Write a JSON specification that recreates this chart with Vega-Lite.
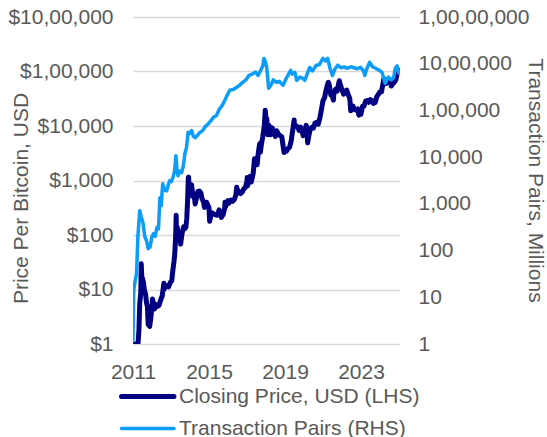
{
  "$schema": "https://vega.github.io/schema/vega-lite/v6.json",
  "width": 267,
  "height": 327,
  "autosize": {"type": "none"},
  "padding": {"left": 133, "top": 17, "right": 147, "bottom": 93},
  "background": "white",
  "config": {
    "font": "Liberation Sans",
    "view": {"stroke": null},
    "axis": {
      "labelFont": "Liberation Sans",
      "labelFontSize": 21,
      "labelColor": "#595959",
      "titleFont": "Liberation Sans",
      "titleFontSize": 21,
      "titleFontWeight": "normal",
      "titleColor": "#595959",
      "ticks": false,
      "domain": false,
      "gridColor": "#D9D9D9",
      "gridWidth": 1.5
    }
  },
  "datasets": {
    "price": [
      {"date": "2011-01-15", "price": 0.4},
      {"date": "2011-02-10", "price": 1.0},
      {"date": "2011-03-15", "price": 0.85},
      {"date": "2011-04-01", "price": 0.8},
      {"date": "2011-04-25", "price": 1.8},
      {"date": "2011-05-10", "price": 5.5},
      {"date": "2011-05-31", "price": 8.8},
      {"date": "2011-06-08", "price": 29.6},
      {"date": "2011-06-20", "price": 16},
      {"date": "2011-07-01", "price": 16.1},
      {"date": "2011-07-20", "price": 13.7},
      {"date": "2011-08-10", "price": 9.5},
      {"date": "2011-08-31", "price": 8.2},
      {"date": "2011-09-20", "price": 5.5},
      {"date": "2011-10-05", "price": 4.9},
      {"date": "2011-10-20", "price": 2.3},
      {"date": "2011-11-18", "price": 2.1},
      {"date": "2011-12-05", "price": 2.8},
      {"date": "2011-12-31", "price": 4.7},
      {"date": "2012-01-10", "price": 6.7},
      {"date": "2012-01-31", "price": 5.5},
      {"date": "2012-02-20", "price": 4.4},
      {"date": "2012-03-15", "price": 5.3},
      {"date": "2012-04-15", "price": 4.9},
      {"date": "2012-05-15", "price": 5.1},
      {"date": "2012-06-15", "price": 6.4},
      {"date": "2012-07-15", "price": 7.6},
      {"date": "2012-08-17", "price": 13},
      {"date": "2012-08-20", "price": 10},
      {"date": "2012-09-15", "price": 11.8},
      {"date": "2012-10-15", "price": 11.7},
      {"date": "2012-11-15", "price": 11.2},
      {"date": "2012-12-15", "price": 13.4},
      {"date": "2013-01-15", "price": 14.4},
      {"date": "2013-01-31", "price": 20.4},
      {"date": "2013-02-28", "price": 33.4},
      {"date": "2013-03-15", "price": 47},
      {"date": "2013-03-31", "price": 93},
      {"date": "2013-04-10", "price": 230},
      {"date": "2013-04-16", "price": 80},
      {"date": "2013-04-30", "price": 139},
      {"date": "2013-05-15", "price": 114},
      {"date": "2013-06-15", "price": 100},
      {"date": "2013-07-05", "price": 68},
      {"date": "2013-07-31", "price": 106},
      {"date": "2013-08-31", "price": 141},
      {"date": "2013-09-30", "price": 133},
      {"date": "2013-10-15", "price": 140},
      {"date": "2013-10-31", "price": 204},
      {"date": "2013-11-15", "price": 420},
      {"date": "2013-11-30", "price": 1130},
      {"date": "2013-12-05", "price": 1150},
      {"date": "2013-12-18", "price": 520},
      {"date": "2013-12-31", "price": 750},
      {"date": "2014-01-31", "price": 830},
      {"date": "2014-02-25", "price": 530},
      {"date": "2014-03-31", "price": 460},
      {"date": "2014-04-10", "price": 370},
      {"date": "2014-04-30", "price": 448},
      {"date": "2014-05-31", "price": 630},
      {"date": "2014-06-30", "price": 640},
      {"date": "2014-07-31", "price": 586},
      {"date": "2014-08-18", "price": 470},
      {"date": "2014-09-20", "price": 400},
      {"date": "2014-10-05", "price": 320},
      {"date": "2014-10-31", "price": 338},
      {"date": "2014-11-15", "price": 400},
      {"date": "2014-12-31", "price": 320},
      {"date": "2015-01-14", "price": 178},
      {"date": "2015-01-31", "price": 217},
      {"date": "2015-02-28", "price": 254},
      {"date": "2015-03-31", "price": 244},
      {"date": "2015-04-30", "price": 236},
      {"date": "2015-05-31", "price": 230},
      {"date": "2015-06-30", "price": 263},
      {"date": "2015-07-15", "price": 290},
      {"date": "2015-08-25", "price": 210},
      {"date": "2015-09-30", "price": 236},
      {"date": "2015-10-31", "price": 314},
      {"date": "2015-11-04", "price": 400},
      {"date": "2015-11-15", "price": 330},
      {"date": "2015-12-31", "price": 430},
      {"date": "2016-01-15", "price": 380},
      {"date": "2016-02-28", "price": 437},
      {"date": "2016-03-31", "price": 416},
      {"date": "2016-04-30", "price": 448},
      {"date": "2016-05-31", "price": 531},
      {"date": "2016-06-17", "price": 750},
      {"date": "2016-06-30", "price": 673},
      {"date": "2016-07-31", "price": 624},
      {"date": "2016-08-31", "price": 575},
      {"date": "2016-09-30", "price": 609},
      {"date": "2016-10-31", "price": 700},
      {"date": "2016-11-30", "price": 742},
      {"date": "2016-12-31", "price": 964},
      {"date": "2017-01-04", "price": 1130},
      {"date": "2017-01-12", "price": 800},
      {"date": "2017-02-28", "price": 1190},
      {"date": "2017-03-24", "price": 940},
      {"date": "2017-04-30", "price": 1350},
      {"date": "2017-05-25", "price": 2500},
      {"date": "2017-06-30", "price": 2480},
      {"date": "2017-07-15", "price": 1950},
      {"date": "2017-07-31", "price": 2880},
      {"date": "2017-08-31", "price": 4700},
      {"date": "2017-09-15", "price": 3300},
      {"date": "2017-09-30", "price": 4340},
      {"date": "2017-10-31", "price": 6470},
      {"date": "2017-11-30", "price": 10200},
      {"date": "2017-12-17", "price": 19500},
      {"date": "2017-12-31", "price": 14000},
      {"date": "2018-01-15", "price": 13600},
      {"date": "2018-02-06", "price": 6900},
      {"date": "2018-02-28", "price": 10300},
      {"date": "2018-03-31", "price": 6900},
      {"date": "2018-04-30", "price": 9240},
      {"date": "2018-05-31", "price": 7500},
      {"date": "2018-06-30", "price": 6400},
      {"date": "2018-07-25", "price": 8200},
      {"date": "2018-08-31", "price": 7040},
      {"date": "2018-09-30", "price": 6630},
      {"date": "2018-10-31", "price": 6370},
      {"date": "2018-11-30", "price": 4020},
      {"date": "2018-12-15", "price": 3250},
      {"date": "2018-12-31", "price": 3740},
      {"date": "2019-01-31", "price": 3460},
      {"date": "2019-02-28", "price": 3850},
      {"date": "2019-03-31", "price": 4100},
      {"date": "2019-04-30", "price": 5350},
      {"date": "2019-05-31", "price": 8570},
      {"date": "2019-06-26", "price": 12900},
      {"date": "2019-06-30", "price": 10800},
      {"date": "2019-07-31", "price": 10100},
      {"date": "2019-08-31", "price": 9600},
      {"date": "2019-09-30", "price": 8300},
      {"date": "2019-10-26", "price": 9550},
      {"date": "2019-11-30", "price": 7570},
      {"date": "2019-12-18", "price": 6640},
      {"date": "2019-12-31", "price": 7200},
      {"date": "2020-01-31", "price": 9350},
      {"date": "2020-02-13", "price": 10300},
      {"date": "2020-02-29", "price": 8600},
      {"date": "2020-03-12", "price": 4900},
      {"date": "2020-03-31", "price": 6440},
      {"date": "2020-04-30", "price": 8660},
      {"date": "2020-05-31", "price": 9460},
      {"date": "2020-06-30", "price": 9140},
      {"date": "2020-07-31", "price": 11350},
      {"date": "2020-08-31", "price": 11650},
      {"date": "2020-09-30", "price": 10780},
      {"date": "2020-10-31", "price": 13800},
      {"date": "2020-11-30", "price": 19700},
      {"date": "2020-12-31", "price": 29000},
      {"date": "2021-01-31", "price": 33100},
      {"date": "2021-02-28", "price": 45100},
      {"date": "2021-03-31", "price": 58900},
      {"date": "2021-04-14", "price": 63500},
      {"date": "2021-04-30", "price": 57700},
      {"date": "2021-05-31", "price": 37300},
      {"date": "2021-06-30", "price": 35000},
      {"date": "2021-07-20", "price": 29800},
      {"date": "2021-07-31", "price": 41600},
      {"date": "2021-08-31", "price": 47100},
      {"date": "2021-09-30", "price": 43800},
      {"date": "2021-10-31", "price": 61300},
      {"date": "2021-11-10", "price": 67500},
      {"date": "2021-11-30", "price": 57000},
      {"date": "2021-12-31", "price": 46300},
      {"date": "2022-01-31", "price": 38500},
      {"date": "2022-02-28", "price": 43200},
      {"date": "2022-03-31", "price": 45500},
      {"date": "2022-04-30", "price": 37700},
      {"date": "2022-05-31", "price": 31800},
      {"date": "2022-06-18", "price": 19000},
      {"date": "2022-06-30", "price": 19800},
      {"date": "2022-07-31", "price": 23300},
      {"date": "2022-08-31", "price": 20000},
      {"date": "2022-09-30", "price": 19400},
      {"date": "2022-10-31", "price": 20500},
      {"date": "2022-11-21", "price": 15800},
      {"date": "2022-11-30", "price": 17200},
      {"date": "2022-12-31", "price": 16500},
      {"date": "2023-01-31", "price": 23100},
      {"date": "2023-02-28", "price": 23100},
      {"date": "2023-03-31", "price": 28500},
      {"date": "2023-04-30", "price": 29200},
      {"date": "2023-05-31", "price": 27200},
      {"date": "2023-06-30", "price": 30500},
      {"date": "2023-07-31", "price": 29200},
      {"date": "2023-08-31", "price": 26000},
      {"date": "2023-09-30", "price": 27000},
      {"date": "2023-10-31", "price": 34500},
      {"date": "2023-11-30", "price": 37700},
      {"date": "2023-12-31", "price": 42300},
      {"date": "2024-01-31", "price": 42600},
      {"date": "2024-02-29", "price": 61200},
      {"date": "2024-03-14", "price": 73000},
      {"date": "2024-03-31", "price": 71300},
      {"date": "2024-04-30", "price": 60600},
      {"date": "2024-05-31", "price": 67500},
      {"date": "2024-06-30", "price": 62700},
      {"date": "2024-07-31", "price": 64600},
      {"date": "2024-08-05", "price": 54000},
      {"date": "2024-08-31", "price": 59000},
      {"date": "2024-09-30", "price": 63300},
      {"date": "2024-10-31", "price": 70200},
      {"date": "2024-11-30", "price": 96400},
      {"date": "2024-12-16", "price": 106000},
      {"date": "2024-12-31", "price": 97000}
    ],
    "pairs": [
      {"date": "2011-01-01", "pairs": 1.2},
      {"date": "2011-01-15", "pairs": 14},
      {"date": "2011-02-10", "pairs": 22},
      {"date": "2011-03-10", "pairs": 32},
      {"date": "2011-04-05", "pairs": 200},
      {"date": "2011-05-10", "pairs": 710},
      {"date": "2011-06-10", "pairs": 520},
      {"date": "2011-07-10", "pairs": 400},
      {"date": "2011-08-15", "pairs": 200},
      {"date": "2011-09-20", "pairs": 160},
      {"date": "2011-10-20", "pairs": 110},
      {"date": "2011-11-25", "pairs": 120},
      {"date": "2012-01-01", "pairs": 200},
      {"date": "2012-02-01", "pairs": 230},
      {"date": "2012-03-01", "pairs": 200},
      {"date": "2012-04-05", "pairs": 310},
      {"date": "2012-05-05", "pairs": 290},
      {"date": "2012-06-01", "pairs": 1350},
      {"date": "2012-06-25", "pairs": 900},
      {"date": "2012-07-25", "pairs": 2700},
      {"date": "2012-08-25", "pairs": 2000},
      {"date": "2012-10-10", "pairs": 1900},
      {"date": "2012-11-10", "pairs": 2600},
      {"date": "2012-12-10", "pairs": 3160},
      {"date": "2013-01-05", "pairs": 3000},
      {"date": "2013-02-05", "pairs": 3600},
      {"date": "2013-03-10", "pairs": 5000},
      {"date": "2013-04-05", "pairs": 10700},
      {"date": "2013-04-25", "pairs": 5500},
      {"date": "2013-05-15", "pairs": 4000},
      {"date": "2013-06-20", "pairs": 5000},
      {"date": "2013-07-25", "pairs": 4700},
      {"date": "2013-08-25", "pairs": 6500},
      {"date": "2013-09-25", "pairs": 12000},
      {"date": "2013-10-25", "pairs": 16000},
      {"date": "2013-11-25", "pairs": 34000},
      {"date": "2013-12-25", "pairs": 32000},
      {"date": "2014-02-01", "pairs": 37000},
      {"date": "2014-03-05", "pairs": 28000},
      {"date": "2014-04-10", "pairs": 26000},
      {"date": "2014-05-20", "pairs": 29000},
      {"date": "2014-07-01", "pairs": 33000},
      {"date": "2014-09-01", "pairs": 37000},
      {"date": "2014-10-20", "pairs": 45000},
      {"date": "2014-12-20", "pairs": 52000},
      {"date": "2015-02-15", "pairs": 62000},
      {"date": "2015-04-01", "pairs": 72000},
      {"date": "2015-05-25", "pairs": 78000},
      {"date": "2015-07-15", "pairs": 105000},
      {"date": "2015-09-15", "pairs": 130000},
      {"date": "2015-10-30", "pairs": 163000},
      {"date": "2015-12-15", "pairs": 210000},
      {"date": "2016-02-05", "pairs": 270000},
      {"date": "2016-04-10", "pairs": 280000},
      {"date": "2016-06-10", "pairs": 310000},
      {"date": "2016-08-10", "pairs": 345000},
      {"date": "2016-10-10", "pairs": 400000},
      {"date": "2016-12-10", "pairs": 450000},
      {"date": "2017-02-05", "pairs": 560000},
      {"date": "2017-04-10", "pairs": 600000},
      {"date": "2017-06-15", "pairs": 660000},
      {"date": "2017-08-01", "pairs": 560000},
      {"date": "2017-09-15", "pairs": 700000},
      {"date": "2017-11-01", "pairs": 900000},
      {"date": "2017-11-20", "pairs": 1300000},
      {"date": "2017-12-20", "pairs": 1100000},
      {"date": "2018-01-15", "pairs": 830000},
      {"date": "2018-02-20", "pairs": 300000},
      {"date": "2018-04-01", "pairs": 340000},
      {"date": "2018-05-20", "pairs": 450000},
      {"date": "2018-07-20", "pairs": 400000},
      {"date": "2018-09-10", "pairs": 420000},
      {"date": "2018-11-25", "pairs": 345000},
      {"date": "2019-02-01", "pairs": 500000},
      {"date": "2019-04-20", "pairs": 720000},
      {"date": "2019-05-20", "pairs": 600000},
      {"date": "2019-07-10", "pairs": 650000},
      {"date": "2019-08-15", "pairs": 440000},
      {"date": "2019-10-15", "pairs": 520000},
      {"date": "2019-12-20", "pairs": 480000},
      {"date": "2020-01-15", "pairs": 440000},
      {"date": "2020-03-01", "pairs": 600000},
      {"date": "2020-04-20", "pairs": 830000},
      {"date": "2020-06-10", "pairs": 700000},
      {"date": "2020-08-25", "pairs": 930000},
      {"date": "2020-10-20", "pairs": 950000},
      {"date": "2020-12-30", "pairs": 1300000},
      {"date": "2021-02-15", "pairs": 1150000},
      {"date": "2021-04-01", "pairs": 1300000},
      {"date": "2021-05-15", "pairs": 800000},
      {"date": "2021-07-01", "pairs": 560000},
      {"date": "2021-08-20", "pairs": 780000},
      {"date": "2021-10-10", "pairs": 930000},
      {"date": "2021-12-10", "pairs": 820000},
      {"date": "2022-02-10", "pairs": 850000},
      {"date": "2022-04-15", "pairs": 800000},
      {"date": "2022-06-20", "pairs": 860000},
      {"date": "2022-08-20", "pairs": 820000},
      {"date": "2022-10-20", "pairs": 780000},
      {"date": "2022-12-20", "pairs": 840000},
      {"date": "2023-02-20", "pairs": 700000},
      {"date": "2023-03-15", "pairs": 560000},
      {"date": "2023-04-20", "pairs": 760000},
      {"date": "2023-06-15", "pairs": 1070000},
      {"date": "2023-08-15", "pairs": 850000},
      {"date": "2023-10-10", "pairs": 800000},
      {"date": "2023-12-20", "pairs": 720000},
      {"date": "2024-02-10", "pairs": 650000},
      {"date": "2024-04-10", "pairs": 380000},
      {"date": "2024-06-10", "pairs": 520000},
      {"date": "2024-08-01", "pairs": 450000},
      {"date": "2024-09-20", "pairs": 500000},
      {"date": "2024-10-20", "pairs": 800000},
      {"date": "2024-11-25", "pairs": 900000},
      {"date": "2024-12-31", "pairs": 620000}
    ]
  },
  "layer": [
    {
      "data": {"name": "price"},
      "mark": {"type": "line", "strokeWidth": 5, "clip": true, "strokeJoin": "round", "strokeCap": "round"},
      "encoding": {
        "x": {
          "field": "date", "type": "temporal",
          "scale": {"domain": [{"year": 2011, "month": 1, "date": 1, "utc": true}, {"year": 2025, "month": 1, "date": 20, "utc": true}]},
          "axis": {
            "title": null,
            "values": [{"year": 2011, "month": 1, "date": 1, "utc": true}, {"year": 2015, "month": 1, "date": 1, "utc": true}, {"year": 2019, "month": 1, "date": 1, "utc": true}, {"year": 2023, "month": 1, "date": 1, "utc": true}],
            "format": "%Y", "formatType": "utc", "grid": false, "labelPadding": 17, "labelFlush": false
          }
        },
        "y": {
          "field": "price", "type": "quantitative",
          "scale": {"type": "log", "domain": [1, 1000000]},
          "axis": {
            "title": "Price Per Bitcoin, USD",
            "values": [1, 10, 100, 1000, 10000, 100000, 1000000],
            "labelExpr": "datum.value == 1 ? '$1' : datum.value == 10 ? '$10' : datum.value == 100 ? '$100' : datum.value == 1000 ? '$1,000' : datum.value == 10000 ? '$10,000' : datum.value == 100000 ? '$1,00,000' : '$10,00,000'",
            "grid": true, "labelPadding": 20, "labelBaseline": "middle",
            "titleX": -106, "titleY": 181, "titleAngle": -90, "titleBaseline": "alphabetic", "titleAlign": "center"
          }
        },
        "color": {
          "datum": "Closing Price, USD (LHS)",
          "scale": {"domain": ["Closing Price, USD (LHS)", "Transaction Pairs (RHS)"], "range": ["#000080", "#0B9DF7"]},
          "legend": {
            "title": null, "orient": "none", "legendX": -11.5, "legendY": 369, "direction": "vertical",
            "symbolType": "stroke", "symbolSize": 2750, "symbolStrokeWidth": 5,
            "labelFont": "Liberation Sans", "labelFontSize": 21, "labelColor": "#595959", "labelLimit": 0,
            "labelOffset": 4, "rowPadding": 10, "padding": 0,
            "encode": {
              "symbols": {"update": {"x": {"value": 26.25}, "strokeWidth": {"signal": "datum.value == 'Closing Price, USD (LHS)' ? 5 : 3.5"}, "strokeCap": {"value": "round"}}},
              "labels": {"update": {"x": {"value": 57.5}}}
            }
          }
        }
      }
    },
    {
      "data": {"name": "pairs"},
      "mark": {"type": "line", "strokeWidth": 3.5, "clip": true, "strokeJoin": "round", "strokeCap": "round"},
      "encoding": {
        "x": {
          "field": "date", "type": "temporal",
          "scale": {"domain": [{"year": 2011, "month": 1, "date": 1, "utc": true}, {"year": 2025, "month": 1, "date": 20, "utc": true}]},
          "axis": {
            "title": null,
            "values": [{"year": 2011, "month": 1, "date": 1, "utc": true}, {"year": 2015, "month": 1, "date": 1, "utc": true}, {"year": 2019, "month": 1, "date": 1, "utc": true}, {"year": 2023, "month": 1, "date": 1, "utc": true}],
            "format": "%Y", "formatType": "utc", "grid": false, "labelPadding": 17, "labelFlush": false
          }
        },
        "y": {
          "field": "pairs", "type": "quantitative",
          "scale": {"type": "log", "domain": [1, 10000000]},
          "axis": {
            "orient": "right",
            "title": "Transaction Pairs, Millions",
            "values": [1, 10, 100, 1000, 10000, 100000, 1000000, 10000000],
            "labelExpr": "datum.value == 1 ? '1' : datum.value == 10 ? '10' : datum.value == 100 ? '100' : datum.value == 1000 ? '1,000' : datum.value == 10000 ? '10,000' : datum.value == 100000 ? '1,00,000' : datum.value == 1000000 ? '10,00,000' : '1,00,00,000'",
            "grid": false, "labelPadding": 18, "labelBaseline": "middle",
            "titleX": 128, "titleY": 163, "titleAngle": 90, "titleBaseline": "alphabetic", "titleAlign": "center"
          }
        },
        "color": {"datum": "Transaction Pairs (RHS)"}
      }
    }
  ],
  "resolve": {"scale": {"y": "independent"}}
}
